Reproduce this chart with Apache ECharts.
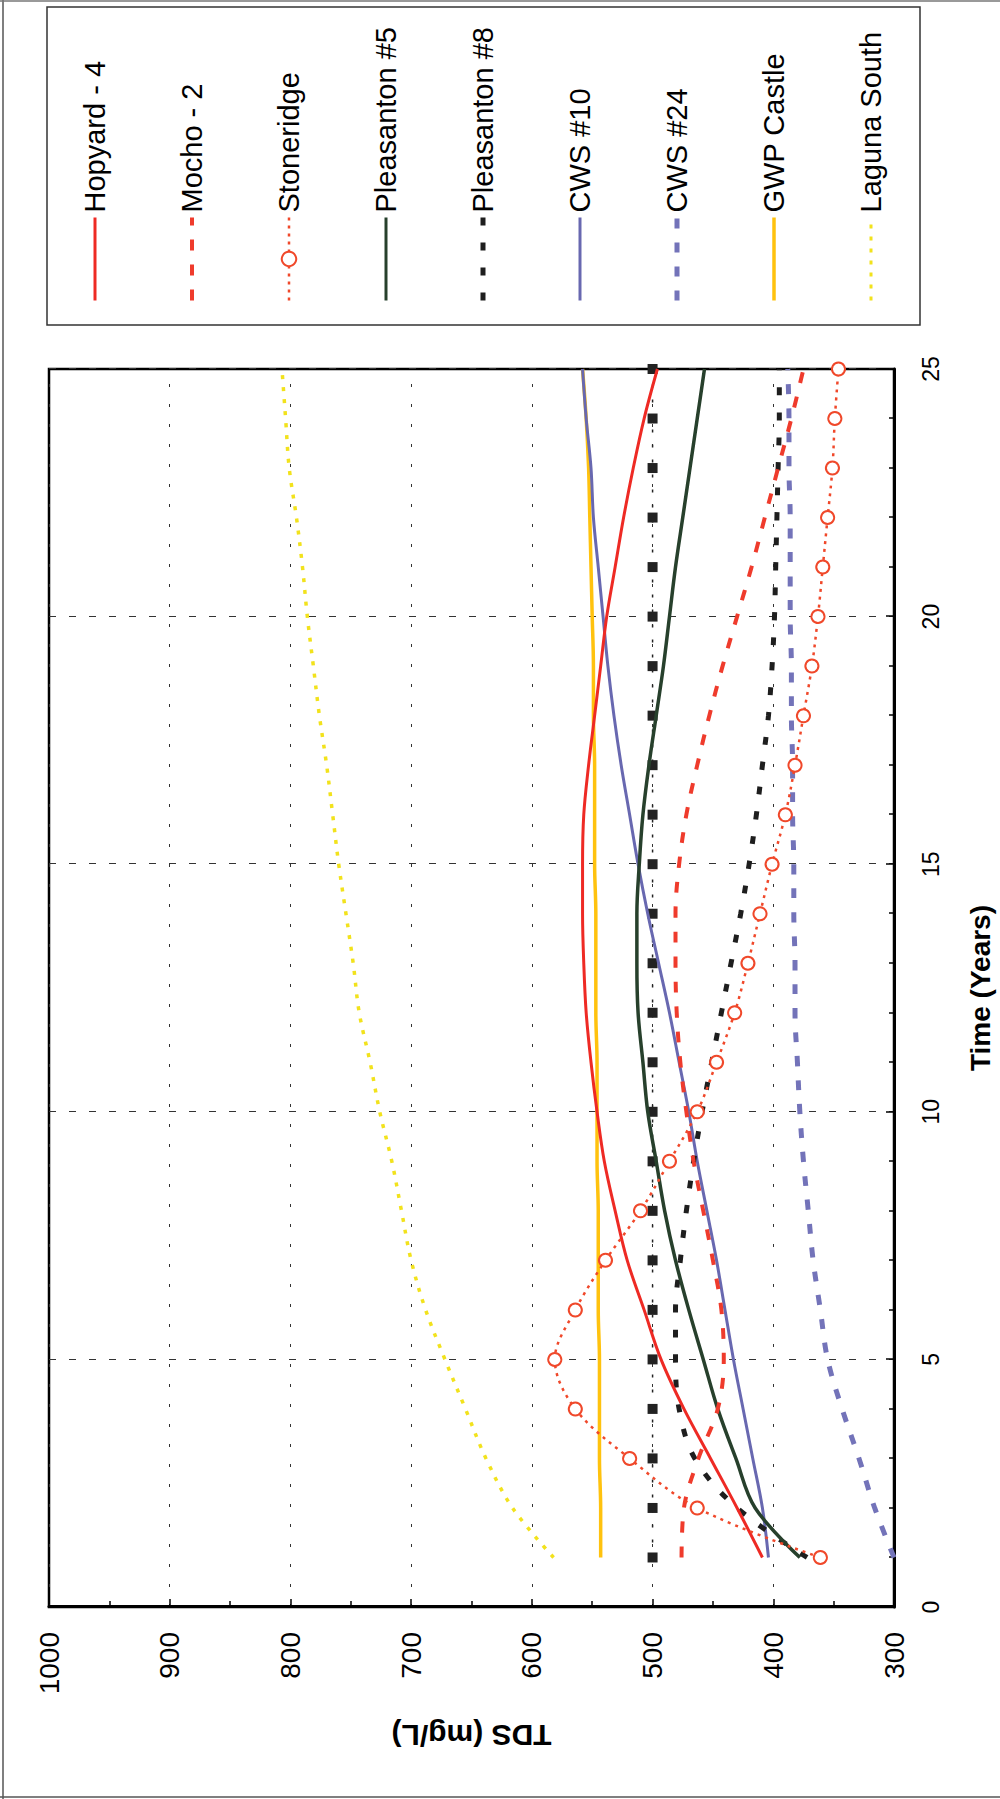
<!DOCTYPE html>
<html>
<head>
<meta charset="utf-8">
<script src="https://cdn.jsdelivr.net/npm/echarts@6/dist/echarts.min.js"></script>
<style>
  html, body { margin: 0; padding: 0; background: #fff; overflow: hidden; }
  #c {
    position: absolute; left: 0; top: 0;
    width: 1799px; height: 1000px;
    transform-origin: 0 0;
    transform: translateY(1799px) rotate(-90deg);
  }
</style>
</head>
<body>
<div id="c"></div>
<script>
// ---- data ----
const years = [1,2,3,4,5,6,7,8,9,10,11,12,13,14,15,16,17,18,19,20,21,22,23,24,25];
const hopyard4 = [409,430,452,474,493,507,521,531,540,546,551,555,557,558,558,557,553,548,543,538,531,524,516,507,496];
const mocho2 = [476,474,462,446,441,443,450,458,466,472,477,480,481,481,478,472,463,453,442,430,418,407,396,385,375];
const stoneridge = [361,463,519,564,581,564,539,510,486,463,447,432,421,411,401,390,382,375,368,363,359,355,351,349,346];
const pleasanton5 = [378,415,431,446,458,470,481,490,497,504,508,512,513,513,511,508,503,497,491,486,481,475,469,463,457];
const pleasanton8 = [372,430,465,478,481,481,477,472,466,459,451,443,435,427,420,414,409,404,401,399,398,397,396,395,395];
const cws10 = [404,409,417,425,433,440,447,455,463,470,478,486,495,504,512,519,526,532,537,541,545,549,551,555,558];
const cws24 = [300,316,329,343,355,361,367,371,375,378,380,382,382,383,383,384,384,385,385,386,386,386,387,387,388];
const gwpCastle = [543,543,544,544,544,545,545,545,546,546,546,547,547,547,548,548,548,549,549,550,551,552,553,555,558];
const lagunaSouth = [582,616,638,655,672,688,700,708,716,726,734,743,748,754,760,765,770,776,781,786,790,795,801,804,807];
const mcl500 = [500,500,500,500,500,500,500,500,500,500,500,500,500,500,500,500,500,500,500,500,500,500,500,500,500];
const timeTicks = [0,5,10,15,20,25];
const tdsTicks = [300,400,500,600,700,800,900,1000];

const FONT = 'Liberation Sans, Arial, Helvetica, sans-serif';
const pts = arr => years.map((t, i) => [t, arr[i]]);

const chart = echarts.init(document.getElementById('c'), null, { renderer: 'svg', width: 1799, height: 1000 });

function lineSeries(name, arr, color, width, type, extra) {
  return Object.assign({
    name: name, type: 'line', data: pts(arr), smooth: 0.35,
    symbol: 'none', clip: true,
    lineStyle: { color: color, width: width, type: type },
    itemStyle: { color: color },
    emphasis: { disabled: true }
  }, extra || {});
}

const noSym = { opacity: 0 };

const option = {
  animation: false,
  backgroundColor: '#ffffff',
  grid: { left: 192, right: 369, top: 49, bottom: 106, show: true, borderColor: '#000', borderWidth: 2.5, backgroundColor: 'transparent' },
  xAxis: {
    type: 'value', min: timeTicks[0], max: timeTicks[timeTicks.length - 1], interval: 5,
    name: 'Time (Years)', nameLocation: 'middle', nameGap: 72,
    nameTextStyle: { fontFamily: FONT, fontSize: 28, fontWeight: 'bold', color: '#000' },
    axisLine: { show: true, onZero: false, lineStyle: { color: '#000', width: 3 } },
    axisTick: { show: true, inside: true, length: 8, lineStyle: { color: '#000', width: 1.5 } },
    minorTick: { show: true, splitNumber: 5, length: 5, lineStyle: { color: '#000', width: 1.5 } },
    axisLabel: { fontFamily: FONT, fontSize: 23, color: '#000', margin: 25, formatter: v => String(v) },
    splitLine: { show: true, lineStyle: { color: '#333', width: 1, type: [7, 13] } }
  },
  yAxis: {
    type: 'value', min: tdsTicks[0], max: tdsTicks[tdsTicks.length - 1], interval: 100,
    name: 'TDS (mg/L)', nameLocation: 'middle', nameGap: 113,
    nameTextStyle: { fontFamily: FONT, fontSize: 30, fontWeight: 'bold', color: '#000' },
    axisLine: { show: true, onZero: false, lineStyle: { color: '#000', width: 3 } },
    axisTick: { show: true, inside: true, length: 8, lineStyle: { color: '#000', width: 1.5 } },
    minorTick: { show: true, splitNumber: 2, length: 6, lineStyle: { color: '#000', width: 1.5 } },
    axisLabel: { fontFamily: FONT, fontSize: 28, color: '#000', margin: 25, formatter: v => String(v) },
    splitLine: { show: true, lineStyle: { color: '#333', width: 1, type: [3, 17] } }
  },
  legend: {
    orient: 'vertical', left: 1496, top: 80, padding: 0,
    itemWidth: 83, itemHeight: 18, itemGap: 67,
    textStyle: { fontFamily: FONT, fontSize: 29, lineHeight: 30, color: '#000' },
    data: [
      { name: 'Hopyard - 4', lineStyle: { width: 3 }, itemStyle: noSym },
      { name: 'Mocho - 2', lineStyle: { width: 4 }, itemStyle: noSym },
      { name: 'Stoneridge', lineStyle: { width: 2.5 } },
      { name: 'Pleasanton #5', lineStyle: { width: 3 }, itemStyle: noSym },
      { name: 'Pleasanton #8', lineStyle: { width: 5 }, itemStyle: noSym },
      { name: 'CWS #10', lineStyle: { width: 3 }, itemStyle: noSym },
      { name: 'CWS #24', lineStyle: { width: 5 }, itemStyle: noSym },
      { name: 'GWP Castle', lineStyle: { width: 3.5 }, itemStyle: noSym },
      { name: 'Laguna South', lineStyle: { width: 3 }, itemStyle: noSym }
    ]
  },
  graphic: [
    { type: 'rect', shape: { x: 1474, y: 47, width: 318, height: 873 }, style: { fill: 'none', stroke: '#333', lineWidth: 1.5 }, z: 10 },
    { type: 'line', shape: { x1: 0, y1: 3, x2: 1799, y2: 3 }, style: { stroke: '#555', lineWidth: 1.5 } },
    { type: 'line', shape: { x1: 2, y1: 0, x2: 2, y2: 1000 }, style: { stroke: '#555', lineWidth: 1.5 } },
    { type: 'line', shape: { x1: 1798, y1: 0, x2: 1798, y2: 1000 }, style: { stroke: '#777', lineWidth: 1.5 } }
  ],
  series: [
    {
      name: 'MCL 500', type: 'line', data: pts(mcl500), symbol: 'rect', symbolSize: 10,
      itemStyle: { color: '#222' }, lineStyle: { color: '#222', width: 1.5, type: [3, 12] },
      emphasis: { disabled: true }, z: 2
    },
    lineSeries('Laguna South', lagunaSouth, '#f2e21c', 3.5, [4, 8]),
    lineSeries('CWS #24', cws24, '#7373b9', 5, [10, 14]),
    lineSeries('GWP Castle', gwpCastle, '#ffc20e', 3.5, 'solid'),
    lineSeries('CWS #10', cws10, '#6868b0', 3, 'solid'),
    lineSeries('Pleasanton #8', pleasanton8, '#1e1e1e', 5, [8, 17]),
    lineSeries('Pleasanton #5', pleasanton5, '#27402c', 3.5, 'solid'),
    lineSeries('Mocho - 2', mocho2, '#ef3b2c', 4, [11, 14]),
    lineSeries('Hopyard - 4', hopyard4, '#ee2a24', 3, 'solid'),
    lineSeries('Stoneridge', stoneridge, '#f0482a', 2.5, [3, 5], {
      symbol: 'emptyCircle', symbolSize: 13, showSymbol: true,
      itemStyle: { color: '#f0482a', borderColor: '#f0482a', borderWidth: 2 }
    })
  ]
};
chart.setOption(option);
</script>
</body>
</html>
